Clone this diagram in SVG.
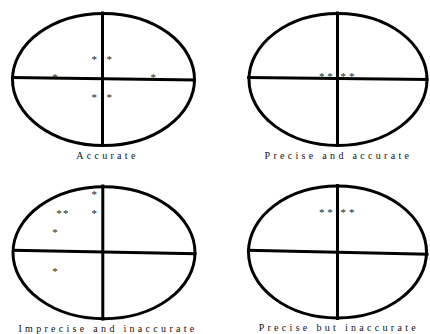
<svg xmlns="http://www.w3.org/2000/svg" width="430" height="334" viewBox="0 0 430 334">
<style>
.ring{fill:none;stroke:#000;stroke-width:3}
.ax{stroke:#000;stroke-width:3;fill:none}
.st{font-family:"Liberation Serif",serif;font-size:11px;fill:#222;text-anchor:middle}
.lb{font-family:"Liberation Serif",serif;font-size:10px;fill:#111;text-anchor:middle;letter-spacing:3.3px}
</style>
<rect width="430" height="334" fill="#fff"/>
<g id="target-accurate">
<ellipse class="ring" cx="103.5" cy="79.5" rx="91" ry="66"/>
<line class="ax" x1="11" y1="77.5" x2="196" y2="80"/>
<line class="ax" x1="102.5" y1="11.5" x2="102.5" y2="147"/>
<text class="st" x="94.3" y="63">*</text>
<text class="st" x="109.3" y="63">*</text>
<text class="st" x="94.3" y="101">*</text>
<text class="st" x="109.3" y="101">*</text>
<text class="st" x="55" y="81.3">*</text>
<text class="st" x="153.3" y="81.3">*</text>
<text class="lb" x="107.4" y="159">Accurate</text>
</g>
<g id="target-precise-accurate">
<ellipse class="ring" cx="338" cy="79.5" rx="89" ry="66"/>
<line class="ax" x1="247" y1="77.5" x2="428.5" y2="79.5"/>
<line class="ax" x1="337.5" y1="11.5" x2="337.5" y2="147"/>
<text class="st" x="321.7" y="80.2">*</text>
<text class="st" x="330" y="80.2">*</text>
<text class="st" x="343.3" y="80.2">*</text>
<text class="st" x="351.7" y="80.2">*</text>
<text class="lb" x="338.4" y="158.5">Precise and accurate</text>
</g>
<g id="target-imprecise-inaccurate">
<ellipse class="ring" cx="104" cy="252.7" rx="91" ry="66"/>
<line class="ax" x1="12" y1="250.3" x2="196.5" y2="253.7"/>
<line class="ax" x1="102.8" y1="184.5" x2="102.8" y2="320.5"/>
<text class="st" x="94.3" y="198">*</text>
<text class="st" x="59" y="217">*</text>
<text class="st" x="65.7" y="217">*</text>
<text class="st" x="94.3" y="217">*</text>
<text class="st" x="55" y="236">*</text>
<text class="st" x="55" y="274.5">*</text>
<text class="lb" x="108" y="331.5">Imprecise and inaccurate</text>
</g>
<g id="target-precise-inaccurate">
<ellipse class="ring" cx="337.5" cy="252" rx="89" ry="66"/>
<line class="ax" x1="247" y1="250.3" x2="428.5" y2="254.3"/>
<line class="ax" x1="337.5" y1="184" x2="337.5" y2="320"/>
<text class="st" x="321.7" y="216.2">*</text>
<text class="st" x="330" y="216.2">*</text>
<text class="st" x="343.3" y="216.2">*</text>
<text class="st" x="351.7" y="216.2">*</text>
<text class="lb" x="338.8" y="331">Precise but inaccurate</text>
</g>
</svg>
